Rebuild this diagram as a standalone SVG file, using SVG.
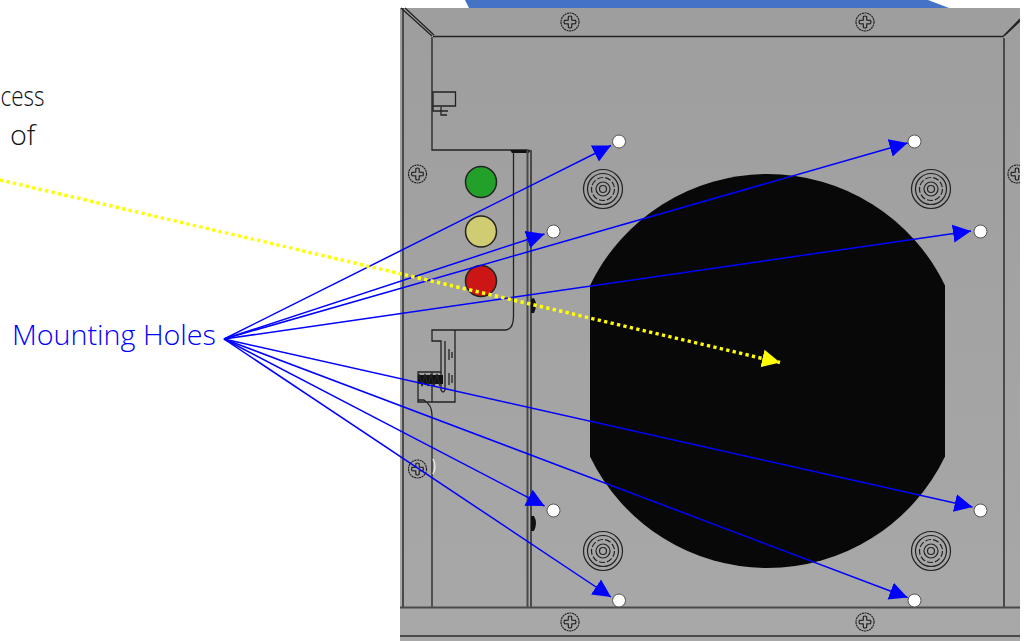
<svg xmlns="http://www.w3.org/2000/svg" width="1028" height="641" viewBox="0 0 1028 641">
<style>
.ln{fill:none;stroke:#222;stroke-width:1.3}
.fr{fill:none;stroke:#4a4a4a;stroke-width:2}
.blue{fill:none;stroke:#0000ff;stroke-width:1.5;marker-end:url(#ab)}
.hole{fill:#fff;stroke:#555;stroke-width:1}
.led{stroke:#222;stroke-width:1.5}
.scr{fill:none;stroke:#222;stroke-width:1.2}
.t{font-family:"Open Sans","Liberation Sans",sans-serif;font-weight:300}
</style>
<defs>
<linearGradient id="steel" x1="0" y1="0" x2="0" y2="1"><stop offset="0" stop-color="#9e9e9e"/><stop offset="1" stop-color="#a8a8a8"/></linearGradient>
<marker id="ab" markerUnits="userSpaceOnUse" markerWidth="20" markerHeight="20" refX="18" refY="9.500" orient="auto"><path d="M0,0.500L18,9.500L0,18.500Z" fill="#0000ff"/></marker>
<marker id="ay" markerUnits="userSpaceOnUse" markerWidth="20" markerHeight="20" refX="18" refY="9.500" orient="auto"><path d="M0,0.500L18,9.500L0,18.500Z" fill="#ffff00"/></marker>
<g id="screw"><circle r="9" class="scr" stroke-dasharray="2 .6"/><path class="scr" stroke-width="1.800" d="M-1.600,-5.500Q0,-6.500 1.600,-5.500L1.800,-1.800L5.500,-1.600Q6.500,0 5.500,1.600L1.800,1.800L1.600,5.500Q0,6.500 -1.600,5.500L-1.800,1.800L-5.500,1.600Q-6.500,0 -5.500,-1.600L-1.800,-1.800Z"/></g>
<g id="conn"><circle r="19.500" class="scr"/><circle r="15.500" class="scr"/><circle r="11.500" class="scr" stroke-width="2" stroke-dasharray="6 2"/><circle r="7" class="scr"/><circle r="3.500" class="scr"/></g>
<clipPath id="page"><rect x="400" y="8" width="620" height="633"/></clipPath>
</defs>
<rect width="1028" height="641" fill="#fff"/>
<g id="cover"><path d="M465,0H928L949,8H469Z" fill="#4472c4"/></g>
<g id="panel">
<rect x="400" y="8" width="620" height="633" fill="url(#steel)"/>
<path class="fr" d="M403,8V607"/>
<path class="fr" d="M1004,38V607"/>
<path class="ln" d="M401,8L432,36M405,8L434,35M433,36.500H1003L1020,19M1005,35L1020,21" stroke-width="1.500"/>
<path class="ln" stroke-width="1.500" d="M432,37V150H527Q530,150 531,153"/>
<path d="M510,150H529V153H512Z" fill="#111"/>
<path class="ln" stroke-width="1.500" d="M513.500,152V316Q513.500,330 505,330H432V341H441V372H418V402H455V330M432,372V402M418,400H424Q432,405 432,415V607"/>
<path class="ln" d="M445,341V390Q443,394 441,390V372"/>
<path class="ln" stroke="#666" stroke-width="1.500" d="M449,349V360M452,352V358M449,373V385M452,375V383"/>
<path class="fr" d="M527.500,150V607M531,150V607" stroke-width="1.400"/>
<path class="ln" d="M433,92H455.500V106H433Z" fill="#a8a9bd"/>
<path class="ln" d="M433,106V111H448M441,107V115H447"/>
<path d="M418,375H443V384H418Z" fill="#111"/>
<path class="ln" stroke="#111" stroke-width="1.500" d="M419,374L422,386L425,374L428,386L431,374L434,386L437,374L440,386"/>
<path d="M534,298Q538,305 534,313L531,313V299Z M534,516Q538,523 534,531L531,531V516Z" fill="#111"/>
<path fill="none" stroke="#e8e8e0" stroke-width="1.500" d="M433,459Q437,466 433,474"/>
<path class="fr" d="M400,607.500H1020M400,636H1020" stroke-width="1.500"/>
<path d="M590,285.500A197,197 0 0 1 945,285.500V456.500A197,197 0 0 1 590,456.500Z" fill="#080808"/>
<use href="#conn" x="603" y="189"/><use href="#conn" x="931" y="189"/><use href="#conn" x="603" y="551"/><use href="#conn" x="931" y="551"/>
</g>
<g id="screws" clip-path="url(#page)">
<use href="#screw" x="570" y="22"/><use href="#screw" x="865" y="22"/><use href="#screw" x="417.500" y="174"/><use href="#screw" x="1017" y="174"/><use href="#screw" x="417.500" y="469"/><use href="#screw" x="570" y="622"/><use href="#screw" x="865" y="622"/>
</g>
<g id="led-green"><circle cx="481" cy="182" r="15.500" class="led" fill="#22a02a"/></g>
<g id="led-yellow"><circle cx="481" cy="231.500" r="15.500" class="led" fill="#d0cc72"/></g>
<g id="led-red"><circle cx="481" cy="281" r="15.500" class="led" fill="#cc1515"/></g>
<g id="holes">
<circle class="hole" cx="619" cy="141.500" r="6.500"/><circle class="hole" cx="914.500" cy="141.500" r="6.500"/>
<circle class="hole" cx="553.500" cy="231.500" r="6.500"/><circle class="hole" cx="980.500" cy="231.500" r="6.500"/>
<circle class="hole" cx="553.500" cy="510.500" r="6.500"/><circle class="hole" cx="980.500" cy="510.500" r="6.500"/>
<circle class="hole" cx="619" cy="600.500" r="6.500"/><circle class="hole" cx="914.500" cy="600.500" r="6.500"/>
</g>
<g id="connectors">
<path class="blue" d="M224,339L611,145.500"/>
<path class="blue" d="M224,339L907.500,143"/>
<path class="blue" d="M224,339L544.500,234"/>
<path class="blue" d="M224,339L971,231"/>
<path class="blue" d="M224,339L544.500,506"/>
<path class="blue" d="M224,339L611,597"/>
<path class="blue" d="M224,339L972.500,507"/>
<path class="blue" d="M224,339L907.500,597.500"/>
<path d="M0,180L780,362.500" fill="none" stroke="#ffff00" stroke-width="3.500" stroke-dasharray="3.300 3.300" marker-end="url(#ay)"/>
</g>
<g id="labels">
<text class="t" x="0.500" y="106" font-size="28" fill="#111" textLength="44" lengthAdjust="spacingAndGlyphs">cess</text>
<text class="t" x="10" y="145" font-size="28" fill="#111" textLength="25.500" lengthAdjust="spacingAndGlyphs">of</text>
<text class="t" x="12" y="345" font-size="28" fill="#0000ff" textLength="204" lengthAdjust="spacingAndGlyphs">Mounting Holes</text>
</g>
<rect x="1020" y="0" width="8" height="641" fill="#fff"/>
</svg>
